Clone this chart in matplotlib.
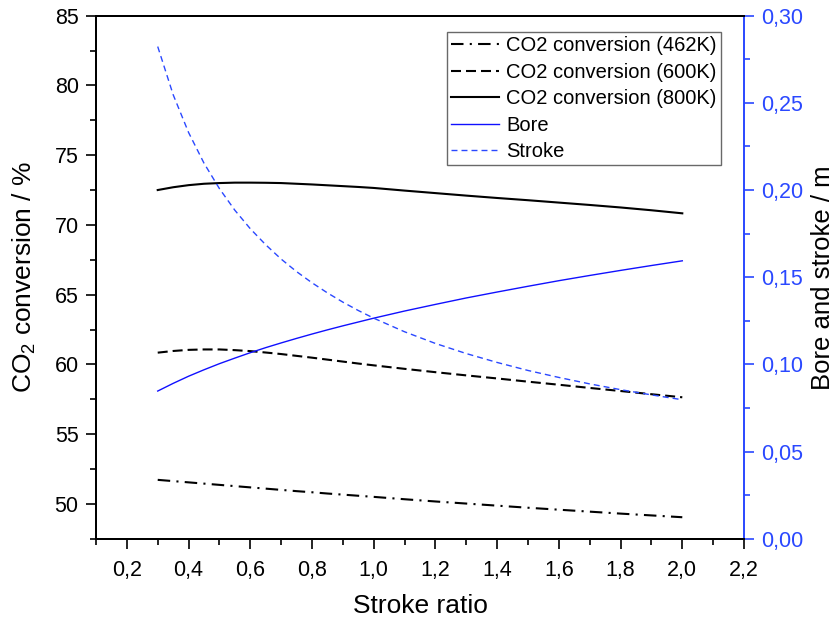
import matplotlib.pyplot as plt
from matplotlib.ticker import MultipleLocator, FuncFormatter

plt.rcParams["font.family"] = ["Liberation Sans", "DejaVu Sans"]
plt.rcParams["mathtext.default"] = "regular"

# stroke ratio
ratio = [0.30, 0.35, 0.40, 0.45, 0.50, 0.55, 0.60, 0.65, 0.70, 0.75,
         0.80, 0.85, 0.90, 0.95, 1.00, 1.1, 1.2, 1.3, 1.4, 1.5,
         1.6, 1.7, 1.8, 1.9, 2.0]

# CO2 conversion / %
conv_462 = [51.72, 51.63, 51.54, 51.45, 51.36, 51.27, 51.18, 51.09, 51.00, 50.91,
            50.83, 50.74, 50.66, 50.58, 50.50, 50.33, 50.17, 50.02, 49.87, 49.72,
            49.58, 49.44, 49.30, 49.17, 49.04]
conv_600 = [60.84, 60.96, 61.04, 61.07, 61.07, 61.02, 60.95, 60.85, 60.74, 60.61,
            60.48, 60.34, 60.20, 60.06, 59.93, 59.68, 59.44, 59.21, 58.99, 58.76,
            58.54, 58.31, 58.09, 57.86, 57.64]
conv_800 = [72.50, 72.70, 72.85, 72.95, 73.00, 73.03, 73.03, 73.02, 73.00, 72.95,
            72.90, 72.84, 72.78, 72.72, 72.65, 72.46, 72.28, 72.10, 71.93, 71.77,
            71.60, 71.43, 71.25, 71.05, 70.83]

# bore and stroke / m
bore = [0.0847, 0.0891, 0.0932, 0.0969, 0.1004, 0.1036, 0.1067, 0.1096, 0.1123, 0.1149,
        0.1174, 0.1198, 0.1221, 0.1243, 0.1265, 0.1306, 0.1344, 0.1381, 0.1415, 0.1448,
        0.1480, 0.1510, 0.1539, 0.1567, 0.1594]
stroke = [0.2823, 0.2547, 0.2330, 0.2154, 0.2008, 0.1884, 0.1778, 0.1686, 0.1604, 0.1532,
          0.1468, 0.1410, 0.1357, 0.1309, 0.1265, 0.1187, 0.1120, 0.1062, 0.1011, 0.0965,
          0.0925, 0.0888, 0.0855, 0.0825, 0.0797]

blue = "#2a48ff"


def comma(v, dec):
    return "{:.{}f}".format(v, dec).replace(".", ",")


fig = plt.figure(figsize=(8.37, 6.23), dpi=100)
ax = fig.add_axes([0.1147, 0.1353, 0.7742, 0.8395])
ax2 = ax.twinx()

l1, = ax.plot(ratio, conv_462, color="black", lw=1.5, dashes=(6, 3, 1, 3),
              label="CO2 conversion (462K)")
l2, = ax.plot(ratio, conv_600, color="black", lw=1.5, dashes=(4.8, 2.4),
              label="CO2 conversion (600K)")
l3, = ax.plot(ratio, conv_800, color="black", lw=1.5, label="CO2 conversion (800K)")
l4, = ax2.plot(ratio, bore, color="#1010ff", lw=1.0, label="Bore")
l5, = ax2.plot(ratio, stroke, color=blue, lw=1.0, dashes=(4.3, 2.9), label="Stroke")

ax.set_xlim(0.1, 2.2)
ax.set_ylim(47.5, 85)
ax2.set_ylim(0, 0.30)

ax.xaxis.set_major_locator(MultipleLocator(0.2))
ax.xaxis.set_minor_locator(MultipleLocator(0.1))
ax.yaxis.set_major_locator(MultipleLocator(5))
ax.yaxis.set_minor_locator(MultipleLocator(2.5))
ax2.yaxis.set_major_locator(MultipleLocator(0.05))
ax2.yaxis.set_minor_locator(MultipleLocator(0.025))
ax.xaxis.set_major_formatter(FuncFormatter(lambda v, p: comma(v, 1)))
ax.yaxis.set_major_formatter(FuncFormatter(lambda v, p: "{:.0f}".format(v)))
ax2.yaxis.set_major_formatter(FuncFormatter(lambda v, p: comma(v, 2)))

for a in (ax, ax2):
    a.tick_params(which="major", direction="out", length=7, width=1.2,
                  labelsize=15.5, pad=5.5)
    a.tick_params(which="minor", direction="out", length=4, width=1.2)
    for s in a.spines.values():
        s.set_linewidth(1.4)
ax.tick_params(axis="x", which="major", pad=8)
ax.tick_params(axis="x", which="both", top=False)
ax.tick_params(axis="y", which="both", right=False)
ax2.tick_params(axis="y", which="both", colors=blue, labelcolor=blue)
ax2.spines["right"].set_color(blue)
ax.spines["right"].set_visible(False)

ax.set_xlabel("Stroke ratio", fontsize=19, labelpad=10)
ax.set_ylabel("CO$_2$ conversion / %", fontsize=19, labelpad=12)
ax2.set_ylabel("Bore and stroke / m", fontsize=18.5, labelpad=5)

leg = ax.legend(handles=[l1, l2, l3, l4, l5], loc="upper right",
                bbox_to_anchor=(0.964, 0.968), fontsize=14.5, frameon=True,
                fancybox=False, borderpad=0.2, labelspacing=0.37,
                handlelength=2.4, handletextpad=0.35, borderaxespad=0)
leg.get_frame().set_edgecolor("#444444")
leg.get_frame().set_linewidth(1.0)

fig.savefig("out.png", dpi=100)
